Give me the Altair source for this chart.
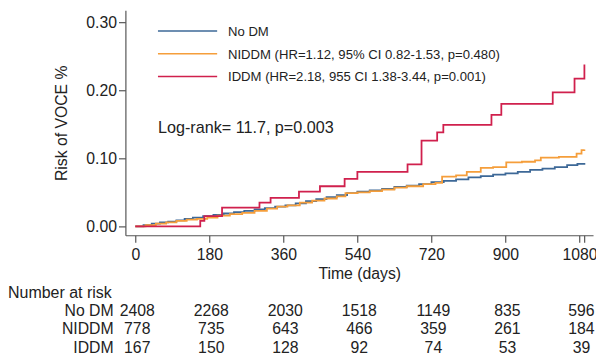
import altair as alt
import pandas as pd

# ---- data ----
nodm_day = [0, 20, 40, 60, 80, 100, 120, 140, 165, 190, 215, 240, 265, 290, 315, 340, 365, 390, 415,
            440, 465, 490, 515, 540, 570, 600, 630, 660, 690, 720, 750, 780, 810, 840, 870, 900, 930,
            960, 990, 1020, 1050, 1075, 1092]
nodm_risk = [0, 0.002, 0.004, 0.006, 0.007, 0.009, 0.011, 0.013, 0.015, 0.017, 0.019, 0.021, 0.023,
             0.025, 0.027, 0.029, 0.031, 0.034, 0.037, 0.040, 0.043, 0.046, 0.049, 0.051, 0.053, 0.055,
             0.058, 0.060, 0.062, 0.065, 0.067, 0.069, 0.072, 0.074, 0.076, 0.078, 0.080, 0.083, 0.085,
             0.087, 0.090, 0.092, 0.093]

niddm_day = [0, 25, 50, 75, 100, 125, 150, 175, 200, 230, 260, 290, 320, 345, 370, 400, 430, 460, 490,
             511, 540, 570, 600, 630, 660, 700, 730, 746, 780, 806, 840, 870, 902, 940, 972, 986, 1030,
             1073, 1085, 1092]
niddm_risk = [0, 0.002, 0.004, 0.006, 0.008, 0.010, 0.011, 0.013, 0.016, 0.018, 0.020, 0.023, 0.026,
              0.029, 0.031, 0.035, 0.038, 0.041, 0.044, 0.049, 0.050, 0.052, 0.054, 0.057, 0.059, 0.062,
              0.064, 0.073, 0.075, 0.080, 0.086, 0.087, 0.094, 0.095, 0.097, 0.101, 0.102, 0.107, 0.112,
              0.113]

iddm_day = [0, 158, 168, 211, 302, 329, 398, 449, 509, 540, 662, 696, 734, 749, 866, 890, 1015, 1068, 1092]
iddm_risk = [0, 0.008, 0.015, 0.0275, 0.035, 0.042, 0.051, 0.059, 0.070, 0.080, 0.091, 0.126, 0.138,
             0.149, 0.164, 0.180, 0.197, 0.217, 0.238]

risk_times = [0, 180, 360, 540, 720, 900, 1080]
n_nodm = [2408, 2268, 2030, 1518, 1149, 835, 596]
n_niddm = [778, 735, 643, 466, 359, 261, 184]
n_iddm = [167, 150, 128, 92, 74, 53, 39]

series_names = ["No DM", "NIDDM (HR=1.12, 95% CI 0.82-1.53, p=0.480)",
                "IDDM (HR=2.18, 955 CI 1.38-3.44, p=0.001)"]
row_names = ["No DM", "NIDDM", "IDDM"]
colors = ["#3d6897", "#f59e3b", "#d0204d"]
x_ticks = [0, 180, 360, 540, 720, 900, 1080, 1092]
y_ticks = [0, 0.1, 0.2, 0.3]

FONT = "Liberation Sans"
TXT = "#222"
W, H = 474, 228

xscale = alt.Scale(domain=[-24, 1113], nice=False, zero=False)
yscale = alt.Scale(domain=[-0.013, 0.3174], nice=False, zero=False)

common_axis = dict(grid=False, labelFont=FONT, titleFont=FONT, labelFontSize=16, titleFontSize=16,
                   titleFontWeight="normal", labelColor=TXT, titleColor=TXT,
                   domainColor="#555", tickColor="#555", domainWidth=1.2, tickWidth=1.2,
                   tickSize=7)
xaxis = alt.Axis(values=x_ticks, format="d", labelExpr="datum.value == 1092 ? '' : datum.label",
                 title="Time (days)", labelOverlap=False, labelFlush=False,
                 labelPadding=5, titlePadding=3, **common_axis)
yaxis = alt.Axis(values=y_ticks, format=".2f", title="Risk of VOCE %",
                 labelPadding=2, titlePadding=17, **common_axis)


def curve(days, risk, color):
    df = pd.DataFrame({"day": days, "risk": risk})
    return alt.Chart(df).mark_line(interpolate="step-after", color=color, strokeWidth=1.8).encode(
        x=alt.X("day:Q", scale=xscale, axis=xaxis),
        y=alt.Y("risk:Q", scale=yscale, axis=yaxis),
    )


layers = [curve(nodm_day, nodm_risk, colors[0]),
          curve(niddm_day, niddm_risk, colors[1]),
          curve(iddm_day, iddm_risk, colors[2])]

dummy = pd.DataFrame({"a": [0]})

# legend (manual, inside the plot)
leg_y = [21, 44, 67]
for name, col, yy in zip(series_names, colors, leg_y):
    layers.append(alt.Chart(dummy).mark_rule(color=col, strokeWidth=1.6).encode(
        x=alt.value(33), x2=alt.value(93), y=alt.value(yy)))
    layers.append(alt.Chart(dummy).mark_text(align="left", baseline="middle", fontSize=13.3,
                                              font=FONT, color=TXT).encode(
        x=alt.value(104), y=alt.value(yy + 1), text=alt.value(name)))

layers.append(alt.Chart(dummy).mark_text(align="left", baseline="middle", fontSize=16.4,
                                          font=FONT, color=TXT).encode(
    x=alt.value(33), y=alt.value(119), text=alt.value("Log-rank= 11.7, p=0.003")))

# number at risk table
layers.append(alt.Chart(dummy).mark_text(align="left", baseline="middle", fontSize=16.2,
                                          font=FONT, color=TXT).encode(
    x=alt.value(-119), y=alt.value(287), text=alt.value("Number at risk")))

row_y = [305, 323, 342]
for rname, counts, yy in zip(row_names, [n_nodm, n_niddm, n_iddm], row_y):
    layers.append(alt.Chart(dummy).mark_text(align="right", baseline="middle", fontSize=16,
                                              font=FONT, color=TXT).encode(
        x=alt.value(-12), y=alt.value(yy), text=alt.value(rname)))
    tdf = pd.DataFrame({"day": risk_times, "n": [str(c) for c in counts]})
    layers.append(alt.Chart(tdf).mark_text(align="center", baseline="middle", fontSize=16,
                                           font=FONT, color=TXT, dx=2).encode(
        x=alt.X("day:Q", scale=xscale, axis=xaxis),
        y=alt.value(yy), text="n:N"))

chart = alt.layer(*layers).properties(
    width=W, height=H,
    background="white",
    autosize=alt.AutoSizeParams(type="none"),
    padding={"left": 119, "top": 0, "right": 3, "bottom": 120},
).configure_view(stroke=None)

chart.save("out.html", embed_options={"renderer": "svg", "actions": False})
